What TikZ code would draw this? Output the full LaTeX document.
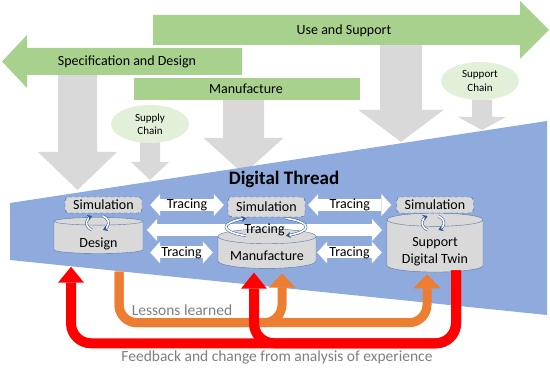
\documentclass[tikz,border=0pt]{standalone}
\usepackage{fontspec}
\setmainfont{Carlito}
\usetikzlibrary{arrows.meta,positioning,calc,shapes.geometric}
\definecolor{ThreadBlue}{HTML}{8FAADC}
\definecolor{PhaseGreen}{HTML}{A9D18E}
\definecolor{ChainGreen}{HTML}{E2F0D9}
\definecolor{BlockGray}{HTML}{D9D9D9}
\definecolor{EdgeBlue}{HTML}{2F5597}
\definecolor{LessonOrange}{HTML}{ED7D31}
\definecolor{FeedbackRed}{HTML}{FF0000}
\definecolor{NoteGray}{HTML}{7F7F7F}
\newcommand{\downBlock}[6]{\fill[BlockGray] (#1-#3,#2) -- (#1+#3,#2) -- (#1+#3,#4) -- (#1+#5,#4) -- (#1,#6) -- (#1-#5,#4) -- (#1-#3,#4) -- cycle;}

\begin{document}
\begin{tikzpicture}[x=1pt,y=-1pt,
  phase/.style={font=\fontsize{14}{16}\selectfont,inner sep=0pt},
  chain/.style={ellipse,fill=ChainGreen,minimum width=78pt,minimum height=38pt,inner sep=0pt,align=center,font=\fontsize{11}{13.5}\selectfont},
  sim/.style={draw=EdgeBlue,dashed,rounded corners=4pt,fill=BlockGray,minimum width=77pt,minimum height=16pt,inner sep=0pt,font=\fontsize{14}{16}\selectfont},
  store/.style={cylinder,shape border rotate=90,aspect=0.2,draw=EdgeBlue!80,fill=BlockGray,inner sep=0pt,align=center,font=\fontsize{14}{16.5}\selectfont},
  trace/.style={draw=white,line width=12pt,{Triangle[width=22pt,length=10pt,line width=0pt]}-{Triangle[width=22pt,length=10pt,line width=0pt]}},
  tracelabel/.style={font=\fontsize{14}{16}\selectfont,inner sep=0pt},
  cyc/.style={draw=EdgeBlue,double=white,double distance=1.6pt,line width=0.5pt,-{Stealth[length=4.5pt,width=6pt]}},
  lesson/.style={draw=LessonOrange,line width=9pt,rounded corners=18pt,-{Triangle[width=27pt,length=14pt,line width=0pt]}},
  feedback/.style={draw=FeedbackRed,line width=10pt,rounded corners=20pt,-{Triangle[width=26pt,length=16pt,line width=0pt]}},
  note/.style={text=NoteGray,font=\fontsize{15.5}{18}\selectfont}
]
\useasboundingbox (0,0) rectangle (550,374);
\downBlock{77.5}{75}{19.5}{152}{39.5}{190}
\downBlock{150}{140}{10}{162}{19}{180}
\downBlock{243.5}{100}{20.5}{138}{40}{174}
\downBlock{401}{45}{21}{110}{42.5}{142}
\downBlock{482}{100}{10}{117}{24}{130}
\fill[PhaseGreen] (153,15) -- (520,15) -- (520,1) -- (549,30) -- (520,59) -- (520,45) -- (153,45) -- cycle;
\fill[PhaseGreen] (242,48) -- (27,48) -- (27,35) -- (2,61.5) -- (27,88) -- (27,75) -- (242,75) -- cycle;
\fill[PhaseGreen] (134,78) rectangle (360,100);
\node[phase] (usesupport) at (344,31) {Use and Support};
\node[phase] (specdesign) at (127,62) {Specification and Design};
\node[phase] (manuphase) at (246,89) {Manufacture};
\node[chain] (supply) at (150,124) {Supply\\Chain};
\node[chain] (support) at (480,81) {Support\\Chain};
\fill[ThreadBlue] (10,203) -- (547,121) -- (547,315) -- (10,260) -- cycle;
\node[font=\bfseries\fontsize{19}{22}\selectfont] (thread) at (284,179) {Digital Thread};
\coordinate (midleft) at (147,230);
\coordinate (midright) at (382,230);
\draw[trace] (midleft) -- (midright);
\node[store,minimum width=89pt,minimum height=35pt] (design) at (98.5,237.5) {\rule{0pt}{22pt}Design};
\node[store,minimum width=98pt,minimum height=31pt] (manufacture) at (267,252.5) {\rule{0pt}{17pt}Manufacture};
\node[store,minimum width=96pt,minimum height=52pt] (twin) at (435,246) {\rule{0pt}{20pt}Support\\Digital Twin};
\node[sim] (designsim) at (103.5,205) {Simulation};
\node[sim,minimum height=20pt] (manusim) at (266.5,207) {Simulation};
\node[sim] (twinsim) at (435,205) {Simulation};
\draw[trace] ([xshift=8pt]designsim.east) -- ([xshift=-4pt]designsim.east -| manusim.west) node[tracelabel,midway] (trtop1) {Tracing};
\draw[trace] ([xshift=3pt]twinsim.west -| manusim.east) -- ([xshift=-5pt]twinsim.west) node[tracelabel,midway] (trtop2) {Tracing};
\draw[trace] ([xshift=7pt]manufacture.west -| design.east) -- ([xshift=-5pt]manufacture.west) node[tracelabel,midway] (trlow1) {Tracing};
\draw[trace] ([xshift=1pt]manufacture.east) -- ([xshift=-5pt]manufacture.east -| twin.west) node[tracelabel,midway] (trlow2) {Tracing};
\foreach \cx/\cy/\rx/\ry in {97.5/223/11/8, 266/227/40/10, 433/223/11/8} {
  \draw[cyc] (\cx,\cy) ++({\rx*cos(120)},{\ry*sin(120)}) arc[start angle=120,end angle=240,x radius=\rx,y radius=\ry];
  \draw[cyc] (\cx,\cy) ++({\rx*cos(300)},{\ry*sin(300)}) arc[start angle=300,end angle=420,x radius=\rx,y radius=\ry];
}
\node[tracelabel] (trmid) at ($(midleft)!0.5!(midright)$) {Tracing};
\coordinate (lessonstart) at ([xshift=20.5pt,yshift=-18pt]design.south);
\draw[lesson] (lessonstart) -- ++(0,51) -| ([xshift=15pt,yshift=-5pt]manufacture.south);
\draw[lesson] (lessonstart) -- ++(0,51) -| ([xshift=-8pt,yshift=-2pt]twin.south);
\coordinate (feedbackstart) at ([xshift=21pt,yshift=2pt]twin.south);
\draw[feedback] (feedbackstart) -- ++(0,73) -| ([xshift=-27.5pt,yshift=-13pt]design.south);
\draw[feedback] (feedbackstart) -- ++(0,73) -| ([xshift=-13pt,yshift=-4pt]manufacture.south);
\node[note] (lessons) at (182,310) {Lessons learned};
\node[note] (feedbacktext) at (277,357) {Feedback and change from analysis of experience};
\end{tikzpicture}
\end{document}
